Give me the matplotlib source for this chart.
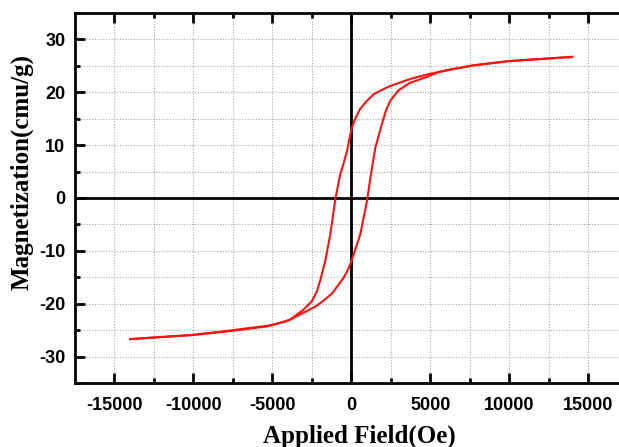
import matplotlib
matplotlib.use("Agg")
import matplotlib.pyplot as plt
from matplotlib.ticker import MultipleLocator, FixedLocator

plt.rcParams["axes.unicode_minus"] = False

# ------------------------
# Data
# ------------------------

# descending branch: +14000 Oe -> -14000 Oe
field_down = [14000, 12500, 10000, 7740, 6270, 5000, 4200, 3520, 2470, 1900,
              1410, 900, 570, 250, 40, -100, -270, -480, -700, -1010, -1330,
              -1650, -1960, -2170, -2490, -3020, -3860, -4500, -5340, -7460,
              -10000, -12500, -14000]
moment_down = [26.7, 26.4, 25.9, 25.1, 24.3, 23.5, 22.9, 22.3, 21.2, 20.4,
               19.6, 18.1, 16.9, 15.0, 13.3, 11.5, 8.9, 6.6, 4.5, -0.2, -6.9,
               -11.9, -15.5, -17.6, -19.5, -21.1, -23.0, -23.6, -24.3, -25.1,
               -25.9, -26.4, -26.7]

# ascending branch: -14000 Oe -> +14000 Oe
field_up = [-14000, -12500, -10000, -8290, -7230, -5130, -4070, -3020, -2200,
            -1700, -1200, -490, -250, -60, 150, 570, 990, 1310, 1520, 1940,
            2200, 2470, 3000, 3730, 4790, 5500, 6270, 7740, 10000, 12500, 14000]
moment_up = [-26.7, -26.4, -25.9, -25.3, -24.9, -24.1, -23.3, -21.7, -20.4,
             -19.3, -18.0, -15.1, -13.8, -12.5, -10.7, -6.9, -0.6, 5.7, 9.5,
             14.0, 16.6, 18.4, 20.4, 21.8, 22.9, 23.8, 24.3, 25.1, 25.9, 26.4,
             26.7]

x_major = [-15000, -10000, -5000, 0, 5000, 10000, 15000]
x_minor = [-12500, -7500, -2500, 2500, 7500, 12500]

# ------------------------
# Plot
# ------------------------

fig = plt.figure(figsize=(6.19, 4.47), dpi=100)
# the original is cropped on the right, so the axes run past the picture edge
ax = fig.add_axes([0.1212, 0.1432, 0.95, 0.8277])

ax.plot(field_down, moment_down, color="#ff1010", lw=1.5, zorder=3)
ax.plot(field_up, moment_up, color="#ff1010", lw=1.5, zorder=3)

ax.axhline(0, color="black", lw=2.0, zorder=2)
ax.axvline(0, color="black", lw=2.0, zorder=2)

ax.set_xlim(-17500, 19750)
ax.set_ylim(-35, 35)

ax.xaxis.set_major_locator(FixedLocator(x_major))
ax.xaxis.set_minor_locator(FixedLocator(x_minor))
ax.yaxis.set_major_locator(MultipleLocator(10))
ax.yaxis.set_minor_locator(MultipleLocator(5))

ax.grid(which="both", color="#a8a8a8", lw=0.8, ls=(0, (1, 1.5)), zorder=1)

for s in ax.spines.values():
    s.set_linewidth(2.0)
ax.spines["right"].set_visible(False)

ax.tick_params(which="both", direction="in", top=True, right=False, width=2.0)
ax.tick_params(which="major", length=7)
ax.tick_params(which="minor", length=3.5)
ax.tick_params(axis="x", labelsize=13, pad=10)
ax.tick_params(axis="y", labelsize=13, pad=7)

for lab in ax.get_xticklabels() + ax.get_yticklabels():
    lab.set_fontfamily("Liberation Sans")
    lab.set_fontweight("bold")

ax.set_xlabel("Applied Field(Oe)", fontfamily="Liberation Serif",
              fontweight="bold", fontsize=18)
ax.set_ylabel("Magnetization(cmu/g)", fontfamily="Liberation Serif",
              fontweight="bold", fontsize=18)
ax.xaxis.set_label_coords(0.4836, -0.112)
ax.yaxis.set_label_coords(-0.0697, 0.57)

fig.savefig("out.png", dpi=100)
